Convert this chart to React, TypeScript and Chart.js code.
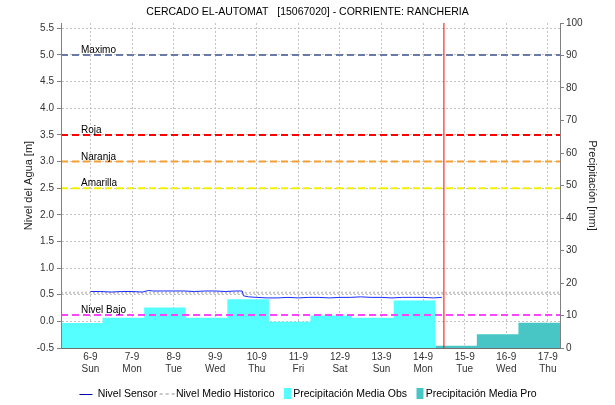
import { useEffect, useRef } from 'react';
import { Chart, registerables } from 'chart.js';

Chart.register(...registerables);

// ---------- data ----------
const chartTitle = 'CERCADO EL-AUTOMAT   [15067020] - CORRIENTE: RANCHERIA';

// x is measured in days, 0 = 6-9 00:00
const xMin = -0.7083; // 5-9 07:00
const xMax = 11.2917; // 17-9 07:00
const dayTicks = [0, 1, 2, 3, 4, 5, 6, 7, 8, 9, 10, 11];
const dateLabels = ['6-9', '7-9', '8-9', '9-9', '10-9', '11-9', '12-9', '13-9', '14-9', '15-9', '16-9', '17-9'];
const dayNames = ['Sun', 'Mon', 'Tue', 'Wed', 'Thu', 'Fri', 'Sat', 'Sun', 'Mon', 'Tue', 'Wed', 'Thu'];

const levelMin = -0.5;
const levelMax = 5.6;
const levelTicks = [-0.5, 0, 0.5, 1, 1.5, 2, 2.5, 3, 3.5, 4, 4.5, 5, 5.5];
const precipMin = 0;
const precipMax = 100;
const precipStep = 10;

const sensorX = [0, 0.25, 0.5, 0.75, 1, 1.25, 1.4, 1.5, 1.75, 2, 2.25, 2.5, 2.75, 3, 3.25, 3.5, 3.65, 3.68, 3.8, 4, 4.25, 4.5, 4.75, 5, 5.25, 5.5, 5.75, 6, 6.25, 6.5, 6.75, 7, 7.25, 7.5, 7.75, 8, 8.25, 8.45];
const sensorY = [0.56, 0.56, 0.55, 0.56, 0.56, 0.55, 0.58, 0.57, 0.57, 0.57, 0.57, 0.56, 0.57, 0.57, 0.56, 0.57, 0.57, 0.48, 0.46, 0.45, 0.44, 0.44, 0.45, 0.44, 0.45, 0.45, 0.44, 0.45, 0.45, 0.46, 0.45, 0.45, 0.44, 0.45, 0.45, 0.45, 0.44, 0.45];

const historicX = [-0.7083, 1, 3, 5, 7, 9, 11.2917];
const historicY = [0.535, 0.535, 0.535, 0.535, 0.535, 0.535, 0.535];

// daily precipitation, each bar from 07:00 to 07:00 of next day
const obsStart = [-0.7083, 0.2917, 1.2917, 2.2917, 3.2917, 4.2917, 5.2917, 6.2917, 7.2917];
const obsEnd = 8.2917;
const obsValues = [7.7, 9.3, 12.5, 9.3, 15.0, 8.1, 10.0, 9.3, 14.6];
const proStart = [8.2917, 9.2917, 10.2917];
const proEnd = 11.2917;
const proValues = [0.7, 4.2, 7.8];

const thresholdNames = ['Maximo', 'Roja', 'Naranja', 'Amarilla', 'Nivel Bajo'];
const thresholdValues = [5.0, 3.5, 3.0, 2.5, 0.12];
const thresholdColors = ['#6a7aa8', '#ff0000', '#f5a030', '#f2f200', '#ff44ff'];

const nowX = 8.5; // 14-9 12:00

const obsColor = '#55ffff';
const proColor = '#48c6c6';
const sensorColor = '#1a2bff';
const historicColor = '#c4c4c4';
const gridColor = '#c4c4c4';
const axisColor = '#808080';

const thresholdLabelPlugin = {
  id: 'thresholdLabels',
  afterDatasetsDraw(chart: any) {
    const { ctx, chartArea, scales } = chart;
    ctx.save();
    ctx.font = '10px "Liberation Sans", Arial, sans-serif';
    ctx.fillStyle = '#000';
    ctx.textAlign = 'left';
    ctx.textBaseline = 'alphabetic';
    thresholdNames.forEach((name, i) => {
      const y = scales.y.getPixelForValue(thresholdValues[i]);
      ctx.fillText(name, chartArea.left + 20, y - 2);
    });
    ctx.restore();
  },
};

function steps(starts: number[], end: number, values: number[]) {
  const pts = starts.map((x, i) => ({ x, y: values[i] }));
  pts.push({ x: end, y: values[values.length - 1] });
  return pts;
}

export default function App() {
  const ref = useRef<HTMLCanvasElement>(null);

  useEffect(() => {
    const canvas = ref.current;
    if (!canvas) return;
    Chart.defaults.font.family = '"Liberation Sans", Arial, sans-serif';

    const mk = (w: number, h: number, draw: (g: CanvasRenderingContext2D) => void) => {
      const c = document.createElement('canvas');
      c.width = w;
      c.height = h;
      const g = c.getContext('2d')!;
      draw(g);
      return c;
    };
    // legend markers (canvas is centred 9.25px before the label text)
    const markers: Record<number, HTMLCanvasElement> = {
      1: mk(22, 2, (g) => { g.fillStyle = '#0000aa'; g.fillRect(2, 1, 13, 1); }),
      2: mk(22, 2, (g) => { g.fillStyle = '#c8c8c8'; [4, 10, 16].forEach((x) => g.fillRect(x, 0, 3, 2)); }),
      8: mk(22, 12, (g) => { g.fillStyle = obsColor; g.fillRect(11, 0, 7, 11); }),
      9: mk(22, 12, (g) => { g.fillStyle = proColor; g.fillRect(11, 0, 7, 11); }),
    };

    const datasets: any[] = [
      {
        label: 'now',
        data: [{ x: nowX, y: levelMin }, { x: nowX, y: levelMax }],
        borderColor: '#ff0000', borderWidth: 1, pointRadius: 0, yAxisID: 'y', order: 0,
      },
      {
        label: 'Nivel Sensor',
        data: sensorX.map((x, i) => ({ x, y: sensorY[i] })),
        borderColor: sensorColor, borderWidth: 1, pointRadius: 0, tension: 0, yAxisID: 'y', order: 1,
      },
      {
        label: 'Nivel Medio Historico',
        data: historicX.map((x, i) => ({ x, y: historicY[i] })),
        borderColor: historicColor, borderWidth: 2, borderDash: [2, 2], pointRadius: 0, yAxisID: 'y', order: 2,
      },
      ...thresholdNames.map((name, i) => ({
        label: name,
        data: [{ x: xMin, y: thresholdValues[i] }, { x: xMax, y: thresholdValues[i] }],
        borderColor: thresholdColors[i], borderWidth: 2, borderDash: [7, 4], pointRadius: 0, yAxisID: 'y', order: 3,
      })),
      {
        label: 'Precipitación Media Obs',
        data: steps(obsStart, obsEnd, obsValues),
        stepped: 'before', fill: 'origin', backgroundColor: obsColor, borderColor: 'rgba(0,0,0,0)', borderWidth: 0,
        pointRadius: 0, yAxisID: 'y1', order: 4,
      },
      {
        label: 'Precipitación Media Pro',
        data: steps(proStart, proEnd, proValues),
        stepped: 'before', fill: 'origin', backgroundColor: proColor, borderColor: 'rgba(0,0,0,0)', borderWidth: 0,
        pointRadius: 0, yAxisID: 'y1', order: 5,
      },
    ];

    const chart = new Chart(canvas, {
      type: 'line',
      data: { datasets },
      plugins: [thresholdLabelPlugin],
      options: {
        animation: false,
        responsive: false,
        events: [],
        layout: { padding: { left: 0, right: 0, top: 0, bottom: -4.25 } },
        plugins: {
          title: {
            display: true, text: chartTitle, color: '#000',
            font: { size: 10.5, weight: 'normal' }, padding: { top: 6.2, bottom: 4.2 },
          },
          legend: {
            position: 'bottom',
            fullSize: false,
            labels: {
              usePointStyle: true, pointStyleWidth: 8, padding: 5.45, color: '#000',
              font: { size: 10.5 },
              generateLabels: (c: any) =>
                (Chart.defaults.plugins.legend.labels.generateLabels as any)(c)
                  .filter((it: any) => markers[it.datasetIndex])
                  .map((it: any) => ({ ...it, pointStyle: markers[it.datasetIndex], fontColor: '#000' })),
            },
          },
          tooltip: { enabled: false },
        },
        scales: {
          x: {
            type: 'linear', min: xMin, max: xMax,
            afterBuildTicks: (s: any) => { s.ticks = dayTicks.map((v) => ({ value: v })); },
            afterFit: (s: any) => { s.height = 40.25 - (5.45 - 0.5); },
            ticks: {
              autoSkip: false, maxRotation: 0, padding: 3, color: '#333', font: { size: 10 },
              callback: (v: any) => { const i = dayTicks.indexOf(Number(v)); return i < 0 ? '' : [dateLabels[i], dayNames[i]]; },
            },
            grid: { color: gridColor, drawTicks: false },
            border: { display: true, color: '#707070', dash: [2, 2], z: 1 },
          },
          y: {
            type: 'linear', position: 'left', min: levelMin, max: levelMax,
            afterBuildTicks: (s: any) => { s.ticks = levelTicks.map((v) => ({ value: v })); },
            afterFit: (s: any) => { s.width = 61; },
            ticks: { padding: 3, color: '#333', font: { size: 10 }, callback: (v: any) => Number(v).toFixed(1) },
            grid: { color: gridColor, tickColor: axisColor, tickLength: 4, tickBorderDash: [] },
            border: { color: axisColor, dash: [2, 2], z: 1 },
            title: { display: true, text: 'Nivel del Agua [m]', color: '#222', font: { size: 11 }, padding: { top: 22.4, bottom: 0 } },
          },
          y1: {
            type: 'linear', position: 'right', min: precipMin, max: precipMax,
            afterFit: (s: any) => { s.width = 55; },
            ticks: { stepSize: precipStep, padding: 2, color: '#333', font: { size: 10 } },
            grid: { drawOnChartArea: false, tickColor: axisColor, tickLength: 4 },
            border: { color: axisColor, z: 1 },
            title: { display: true, text: 'Precipitación [mm]', color: '#222', font: { size: 11 }, padding: { top: 16.4, bottom: 0 } },
          },
        },
      } as any,
    });
    return () => chart.destroy();
  }, []);

  return (
    <div style={{ position: 'absolute', left: 0, top: 0, width: 615, height: 405, background: '#fff' }}>
      <canvas ref={ref} width={615} height={405} style={{ display: 'block' }} />
    </div>
  );
}
